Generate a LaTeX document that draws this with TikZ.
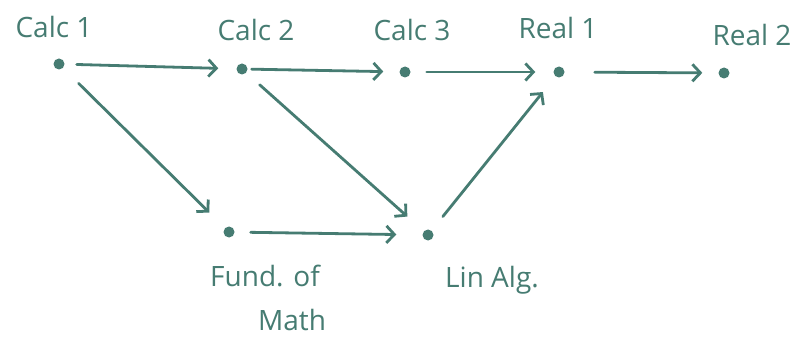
\documentclass[tikz,border=0pt]{standalone}
\usepackage{fontspec}
\setmainfont{Open Sans}
\usetikzlibrary{arrows.meta}
\definecolor{ink}{RGB}{70,124,114}
\begin{document}
\begin{tikzpicture}[x=1pt,y=-1pt,
  dot/.style={circle,fill=ink,inner sep=0pt,minimum size=11pt},
  lbl/.style={text=ink,font=\fontsize{28}{32}\selectfont,inner sep=0pt},
  edge/.style={draw=ink,line width=2.8pt,line cap=round,-{Straight Barb[length=8pt,width=17pt,line width=2.8pt]}}]
\useasboundingbox[fill=white] (0,0) rectangle (803,339);
\node[dot] (c1) at (59,64) {};
\node[dot] (c2) at (242,69) {};
\node[dot] (c3) at (405,72) {};
\node[dot] (r1) at (559,72) {};
\node[dot] (r2) at (724,73) {};
\node[dot] (fm) at (229,232) {};
\node[dot] (la) at (428,235) {};
\node[lbl] (tc1) at (54,27) {Calc 1};
\node[lbl] (tc2) at (256,30) {Calc 2};
\node[lbl] (tc3) at (412,30) {Calc 3};
\node[lbl] (tr1) at (558,28) {Real 1};
\node[lbl] (tr2) at (752,35) {Real 2};
\node[lbl] (tfm) at (265,276) {Fund. of};
\node[lbl] (tfm2) at (292,320) {Math};
\node[lbl] (tla) at (492,280) {Lin Alg.};
\draw[edge,shorten <=12pt,shorten >=18pt] (c1) -- (c2);
\draw[edge,shorten <=4pt,shorten >=16pt] (c2) -- (c3);
\draw[edge,shorten <=16pt,shorten >=18pt] (c3) -- (r1);
\draw[edge,shorten <=30pt,shorten >=16pt] (r1) -- (r2);
\draw[edge,shorten <=22pt,shorten >=22pt] (c1) -- (fm);
\draw[edge,shorten <=18pt,shorten >=22pt] (c2) -- (la);
\draw[edge,shorten <=16pt,shorten >=26pt] (fm) -- (la);
\draw[edge,shorten <=18pt,shorten >=20pt] (la) -- (r1);
\end{tikzpicture}
\end{document}
